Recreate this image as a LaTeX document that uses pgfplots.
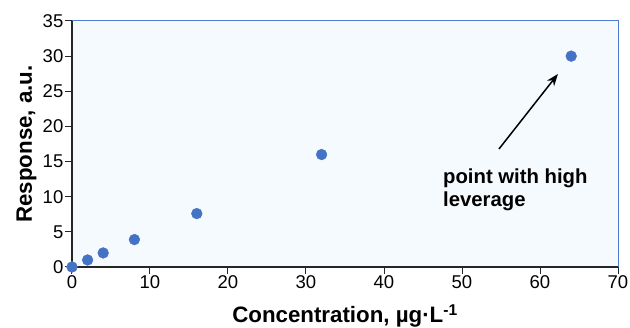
\documentclass[border=0pt]{standalone}
\usepackage{fontspec}
\setmainfont{Liberation Sans}
\usepackage{pgfplots}
\pgfplotsset{compat=1.18}
\usetikzlibrary{arrows.meta}
\definecolor{ptblue}{HTML}{4472C4}
\definecolor{bgblue}{HTML}{F5FAFE}
\definecolor{frameblue}{HTML}{4F7BD0}
\begin{document}
\begin{tikzpicture}
\begin{axis}[
  scale only axis,
  width=546pt, height=246pt,
  xmin=0, xmax=70, ymin=0, ymax=35,
  xtick={0,10,...,70}, ytick={0,5,...,35},
  axis background/.style={fill=bgblue},
  separate axis lines,
  x axis line style={draw=none},
  y axis line style={draw=none},
  tick style={black!85, line width=1pt},
  tick align=outside, major tick length=7pt,
  xtick pos=bottom, ytick pos=left,
  /pgf/number format/assume math mode=true,
  tick label style={font=\fontsize{18.5}{20}\selectfont, inner sep=1.5pt},
  xlabel={\textbf{Concentration, µg·L\textsuperscript{-1}}},
  ylabel={\textbf{Response, a.u.}},
  label style={font=\fontsize{22.3}{24}\selectfont},
  xlabel style={at={([yshift=-56pt]axis description cs:0.5,0)}, anchor=base},
  ylabel style={at={([xshift=-40pt]axis description cs:0,0.5)}, anchor=base, rotate=0},
  clip=false,
]
\addplot[only marks, mark=*, mark size=5.4pt, mark options={draw=ptblue, fill=ptblue}]
  coordinates {(0,0) (2,1) (4,2) (8,3.9) (16,7.6) (32,16) (64,30)};
\draw[frameblue, line width=1pt] (rel axis cs:0,1) -- (rel axis cs:1,1) -- (rel axis cs:1,0);
\draw[black!85, line width=1.6pt] (rel axis cs:0,1) -- (rel axis cs:0,0) -- (rel axis cs:1,0);
\draw[-{Stealth[length=12pt,width=9pt]}, line width=1.5pt] (axis cs:54.74,16.79) -- (axis cs:62.3,27.46);
\node[anchor=base west, font=\bfseries\fontsize{20.3}{24}\selectfont, inner sep=0pt] at (axis cs:47.56,11.95) {point with high};
\node[anchor=base west, font=\bfseries\fontsize{20.3}{24}\selectfont, inner sep=0pt] at (axis cs:47.56,8.54) {leverage};
\coordinate (sw) at (rel axis cs:0,0);
\end{axis}
\pgfresetboundingbox
\useasboundingbox ([shift={(-72pt,-61pt)}]sw) rectangle ++(630pt,328pt);
\end{tikzpicture}
\end{document}
